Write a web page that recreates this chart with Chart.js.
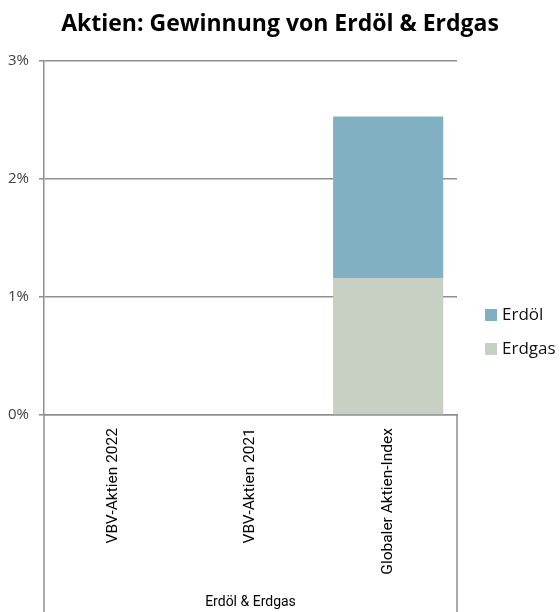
<!DOCTYPE html>
<html><head><meta charset="utf-8">
<script src="https://cdn.jsdelivr.net/npm/chart.js@4/dist/chart.umd.min.js"></script>
<style>html,body{margin:0;padding:0;background:#fff}#wrap{width:560px;height:612px}</style>
</head><body><div id="wrap"><canvas id="c" width="560" height="612"></canvas></div>
<script>
const chartTitle = 'Aktien: Gewinnung von Erdöl & Erdgas';
const categories = ['VBV-Aktien 2022', 'VBV-Aktien 2021', 'Globaler Aktien-Index'];
const groupLabel = 'Erdöl & Erdgas';
const seriesErdoel = [null, null, 1.37];
const seriesErdgas = [null, null, 1.16];
const yTickValues = [0, 1, 2, 3];

const COL_ERDOEL = '#80b0c1';
const COL_ERDGAS = '#c7d0c3';
const LINE = '#8f8f8f';
const NARROW = 'Roboto, "Liberation Sans", sans-serif';

const boxPlugin = {
  id: 'catBox',
  afterDraw(chart) {
    const ctx = chart.ctx, a = chart.chartArea, H = chart.height;
    ctx.save();
    ctx.strokeStyle = LINE; ctx.lineWidth = 1.5;
    ctx.beginPath();
    ctx.moveTo(a.left, a.bottom); ctx.lineTo(a.left, H);
    ctx.moveTo(a.right, a.bottom); ctx.lineTo(a.right, H);
    ctx.stroke();
    // legend (Erdöl above Erdgas)
    const items = chart.data.datasets.slice().reverse();
    ctx.font = '17px "Open Sans", sans-serif';
    ctx.textBaseline = 'middle';
    ctx.textAlign = 'left';
    items.forEach((ds, i) => {
      const cy = 315 + i * 34;
      ctx.fillStyle = ds.backgroundColor;
      ctx.fillRect(485, cy - 6, 12, 12);
      ctx.fillStyle = '#111';
      ctx.fillText(ds.label, 502, cy);
    });
    ctx.restore();
  }
};

new Chart(document.getElementById('c'), {
  type: 'bar',
  data: {
    labels: categories,
    datasets: [
      { label: 'Erdgas', data: seriesErdgas, backgroundColor: COL_ERDGAS },
      { label: 'Erdöl', data: seriesErdoel, backgroundColor: COL_ERDOEL }
    ]
  },
  options: {
    responsive: false,
    animation: false,
    devicePixelRatio: 1,
    categoryPercentage: 0.8,
    barPercentage: 1.0,
    layout: { padding: 0 },
    plugins: {
      legend: { display: false },
      tooltip: { enabled: false },
      title: {
        display: true,
        text: chartTitle,
        color: '#000',
        font: { family: '"Open Sans", sans-serif', size: 23, weight: 'bold', lineHeight: 1.2 },
        padding: { top: 11, bottom: 22.4 }
      }
    },
    scales: {
      x: {
        stacked: true,
        grid: { display: false, drawTicks: false },
        border: { display: true, color: LINE, width: 1.5 },
        ticks: { maxRotation: 90, minRotation: 90, padding: 13, color: '#000',
                 font: { family: NARROW, size: 15.5 } },
        title: { display: true, text: groupLabel, color: '#000',
                 font: { family: NARROW, size: 14, lineHeight: 1.2 }, padding: { top: 0, bottom: 1 } },
        afterFit(s) { s.height = 197; }
      },
      y: {
        stacked: true,
        min: 0, max: 3,
        afterBuildTicks(s) { s.ticks = yTickValues.map(v => ({ value: v })); },
        ticks: { padding: 10, color: '#404040', font: { family: '"Open Sans", sans-serif', size: 15 },
                 callback: v => v + '%' },
        grid: { color: LINE, lineWidth: 1.5, tickLength: 5, drawTicks: true },
        border: { display: true, color: LINE, width: 1.5 },
        afterFit(s) { s.width = 44; }
      },
      legendSpace: {
        type: 'linear',
        position: 'right',
        display: true,
        grid: { display: false, drawTicks: false },
        border: { display: false },
        ticks: { display: false },
        afterFit(s) { s.width = 103; }
      }
    }
  },
  plugins: [boxPlugin]
});
</script>
</body></html>
